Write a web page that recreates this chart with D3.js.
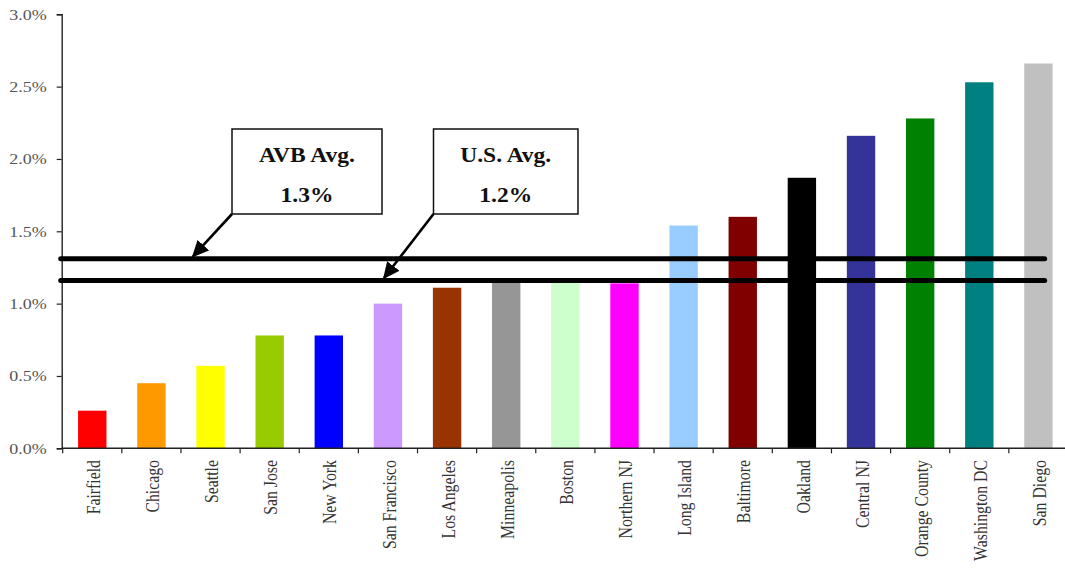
<!DOCTYPE html>
<html>
<head>
<meta charset="utf-8">
<script src="https://cdn.jsdelivr.net/npm/d3@7/dist/d3.min.js"></script>
<style>
  html, body { margin: 0; padding: 0; background: #fff; }
  svg { display: block; }
  text { font-family: "Liberation Serif", "Times New Roman", serif; }
</style>
</head>
<body>
<svg id="chart" width="1065" height="569"></svg>
<script>
// Market growth by metro, sorted low to high
const markets = ["Fairfield", "Chicago", "Seattle", "San Jose", "New York", "San Francisco",
  "Los Angeles", "Minneapolis", "Boston", "Northern NJ", "Long Island", "Baltimore",
  "Oakland", "Central NJ", "Orange County", "Washington DC", "San Diego"];
const growth = [0.0026, 0.0045, 0.0057, 0.0078, 0.0078, 0.0100, 0.0111, 0.0115, 0.0115,
  0.0114, 0.0154, 0.0160, 0.0187, 0.0216, 0.0228, 0.0253, 0.0266];
const barColors = ["#ff0000", "#ff9900", "#ffff00", "#99cc00", "#0000ff", "#cc99ff",
  "#993300", "#969696", "#ccffcc", "#ff00ff", "#99ccff", "#800000", "#000000",
  "#333399", "#008000", "#008080", "#c0c0c0"];
const yTicks = [0, 0.005, 0.01, 0.015, 0.02, 0.025, 0.03];

// Reference averages
const avgNames = ["AVB Avg.", "U.S. Avg."];
const avgValues = [0.0131, 0.0116];

const svg = d3.select("#chart");
const plotLeft = 62.7, plotRight = 1068, plotTop = 14.3, plotBottom = 448.3;
const stretch = 1.2; // horizontal glyph widening

const x = d3.scaleBand().domain(markets).range([plotLeft, plotRight])
  .paddingInner(0.52).paddingOuter(0.26);
const y = d3.scaleLinear().domain([0, 0.03]).range([plotBottom, plotTop]);
const fmt = d3.format(".1%");

// Bars
svg.append("g").selectAll("rect").data(markets).join("rect")
  .attr("x", d => x(d))
  .attr("width", x.bandwidth())
  .attr("y", (d, i) => y(growth[i]))
  .attr("height", (d, i) => y(0) - y(growth[i]))
  .attr("fill", (d, i) => barColors[i]);

// Y axis
const yAxis = svg.append("g").attr("transform", `translate(${plotLeft - 1},0)`)
  .call(d3.axisLeft(y).tickValues(yTicks).tickSize(5).tickFormat(d3.format(".1%")));
yAxis.select(".domain").attr("stroke", "#222").attr("stroke-width", 1.4);
yAxis.selectAll(".tick line").attr("stroke", "#222").attr("stroke-width", 1.2);
yAxis.selectAll(".tick text")
  .attr("x", null).attr("dy", "0.32em")
  .attr("transform", `translate(-15,0) scale(${stretch},1)`)
  .attr("font-size", 15).attr("fill", "#555");

// X axis line with ticks at band boundaries
const axisG = svg.append("g");
axisG.append("line")
  .attr("x1", plotLeft - 1).attr("x2", 1065)
  .attr("y1", plotBottom).attr("y2", plotBottom)
  .attr("stroke", "#222").attr("stroke-width", 1.4);
axisG.selectAll("line.tk").data(d3.range(markets.length)).join("line")
  .attr("class", "tk")
  .attr("x1", i => plotLeft + i * x.step()).attr("x2", i => plotLeft + i * x.step())
  .attr("y1", plotBottom).attr("y2", plotBottom + 5)
  .attr("stroke", "#222").attr("stroke-width", 1.2);

// Category labels, rotated
svg.append("g").selectAll("text").data(markets).join("text")
  .attr("transform", d => `translate(${x(d) + x.bandwidth() / 2 + 1},460) scale(${stretch},1) rotate(-90)`)
  .attr("text-anchor", "end")
  .attr("dy", "0.35em")
  .attr("font-size", 15.8)
  .attr("fill", "#333")
  .text(d => d);

// Average lines
const lineEnd = x("San Diego") + x.bandwidth() * 0.72;
svg.append("g").selectAll("line").data(avgValues).join("line")
  .attr("x1", plotLeft - 2).attr("x2", lineEnd)
  .attr("y1", d => y(d)).attr("y2", d => y(d))
  .attr("stroke", "#000").attr("stroke-width", 5)
  .attr("stroke-linecap", "round");

// Callout boxes with arrows
const boxes = [
  { x0: 232, x1: 382, tipX: 193 },
  { x0: 433.5, x1: 578, tipX: 384 }
];
const boxTop = 129, boxBottom = 214;

const defs = svg.append("defs");
defs.append("marker")
  .attr("id", "head").attr("viewBox", "0 0 10 10")
  .attr("refX", 9).attr("refY", 5)
  .attr("markerWidth", 6.5).attr("markerHeight", 6)
  .attr("markerUnits", "strokeWidth")
  .attr("orient", "auto")
  .attr("preserveAspectRatio", "none")
  .append("path").attr("d", "M0,0 L10,5 L0,10 Z").attr("fill", "#000");

const callouts = svg.append("g").selectAll("g").data(boxes).join("g");
callouts.append("line")
  .attr("x1", d => d.x0).attr("y1", boxBottom)
  .attr("x2", d => d.tipX).attr("y2", (d, i) => y(avgValues[i]) - 2.5)
  .attr("stroke", "#000").attr("stroke-width", 2.6)
  .attr("marker-end", "url(#head)");
callouts.append("rect")
  .attr("x", d => d.x0).attr("y", boxTop)
  .attr("width", d => d.x1 - d.x0).attr("height", boxBottom - boxTop)
  .attr("fill", "#fff").attr("stroke", "#111").attr("stroke-width", 1.5);
callouts.append("text")
  .attr("transform", d => `translate(${(d.x0 + d.x1) / 2},161.5) scale(1.12,1)`)
  .attr("text-anchor", "middle")
  .attr("font-size", 21).attr("font-weight", "bold").attr("fill", "#111")
  .text((d, i) => avgNames[i]);
callouts.append("text")
  .attr("transform", d => `translate(${(d.x0 + d.x1) / 2},201.5) scale(1.12,1)`)
  .attr("text-anchor", "middle")
  .attr("font-size", 21).attr("font-weight", "bold").attr("fill", "#111")
  .text((d, i) => fmt(avgValues[i]));
</script>
</body>
</html>
